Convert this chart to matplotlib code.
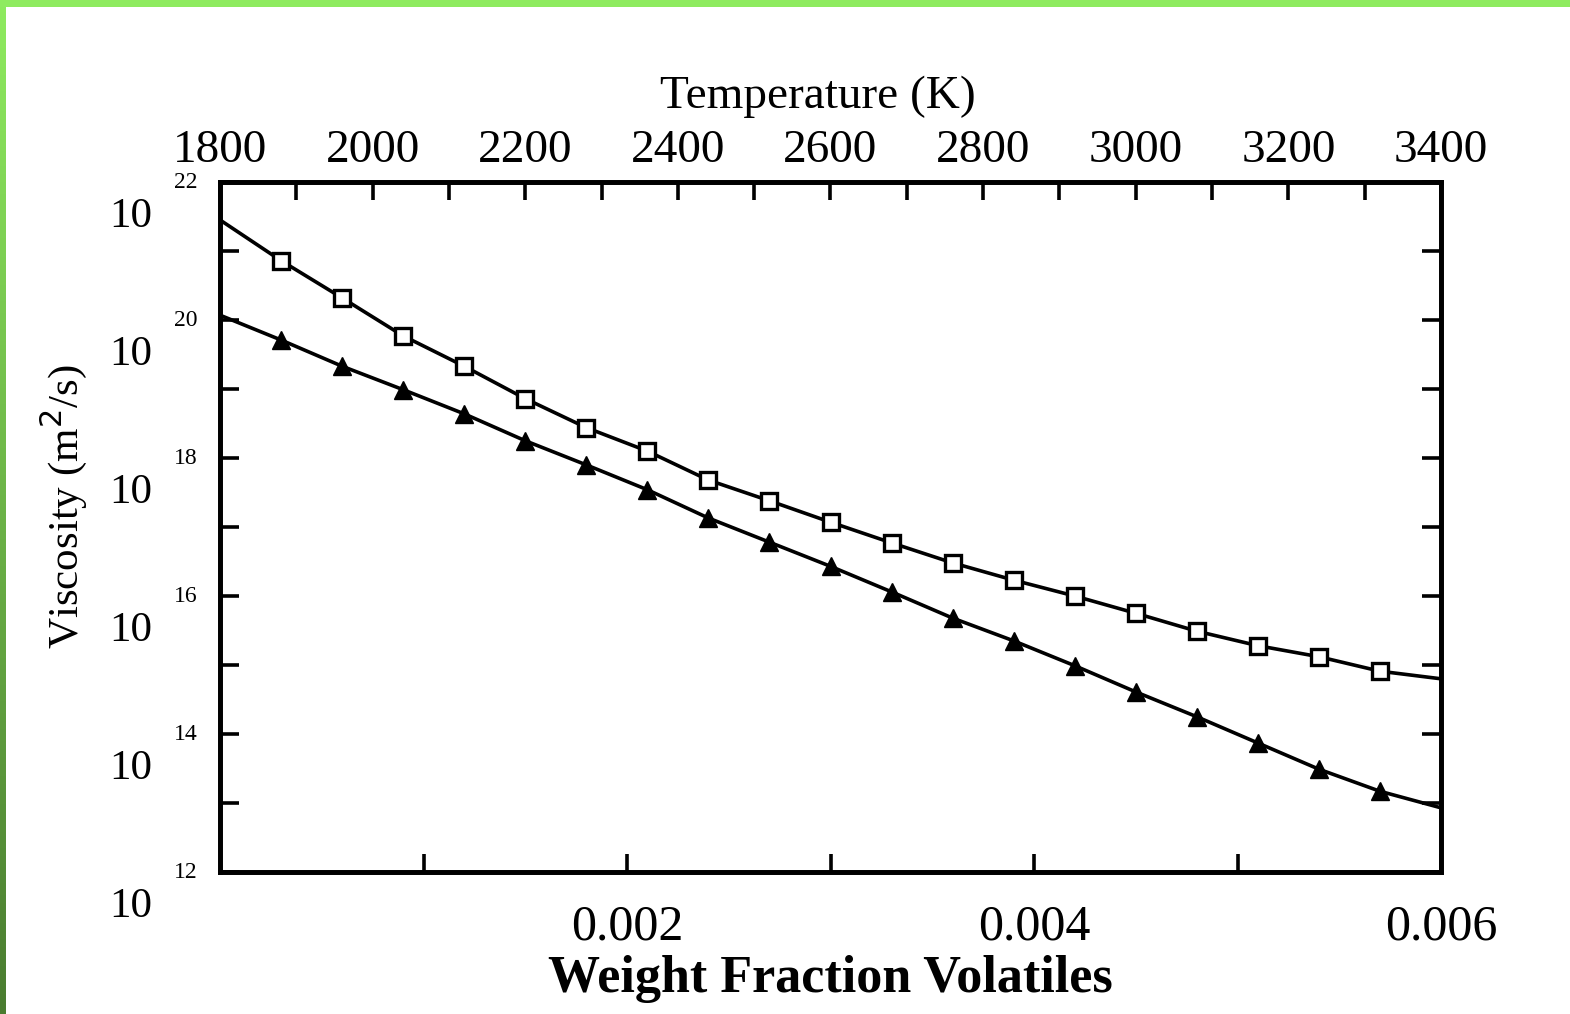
import matplotlib.pyplot as plt
import matplotlib.transforms as mtransforms
from matplotlib.patches import Rectangle
import numpy as np

# weight fraction of volatiles (line runs 0 -> 0.006, markers on the inner points)
wf = [0.0, 0.0003, 0.0006, 0.0009, 0.0012, 0.0015, 0.0018, 0.0021, 0.0024, 0.0027,
      0.0030, 0.0033, 0.0036, 0.0039, 0.0042, 0.0045, 0.0048, 0.0051, 0.0054, 0.0057, 0.0060]

# log10 of viscosity (m^2/s)
log_visc_squares = [21.45, 20.86, 20.32, 19.77, 19.33, 18.86, 18.44, 18.10, 17.68, 17.38,
                    17.07, 16.77, 16.48, 16.23, 16.00, 15.75, 15.49, 15.28, 15.12, 14.91, 14.80]
log_visc_triangles = [20.07, 19.71, 19.33, 18.99, 18.64, 18.25, 17.90, 17.54, 17.13, 16.78,
                      16.43, 16.06, 15.68, 15.35, 14.99, 14.61, 14.25, 13.87, 13.49, 13.17, 12.93]

temp_ticks = [1800, 2000, 2200, 2400, 2600, 2800, 3000, 3200, 3400]
wf_ticks = [0.002, 0.004, 0.006]
wf_tick_labels = ['0.002', '0.004', '0.006']
decade_labels = [12, 14, 16, 18, 20, 22]

serif = 'Liberation Serif'

fig = plt.figure(figsize=(15.7, 10.14), dpi=100)
fig.patch.set_facecolor('white')

# green frame of the screenshot
fig.patches.append(Rectangle((0, 1 - 7 / 1014), 1, 7 / 1014, transform=fig.transFigure,
                             facecolor='#8eeb5f', edgecolor='none', zorder=0))
strip = fig.add_axes([0, 0, 6 / 1570, 1])
grad = np.linspace(0, 1, 256).reshape(-1, 1)
top_c = np.array([0x8e, 0xeb, 0x5f]) / 255
bot_c = np.array([0x4a, 0x7c, 0x30]) / 255
img = top_c * (1 - grad[..., None]) + bot_c * grad[..., None]
strip.imshow(img, aspect='auto')
strip.axis('off')

ax = fig.add_axes([220 / 1570, 1 - 872 / 1014, 1221 / 1570, 690 / 1014])

ax.plot(wf, 10 ** np.array(log_visc_squares), color='black', lw=2.6,
        marker='s', ms=12, mfc='white', mec='black', mew=2.4,
        markevery=list(range(1, len(wf) - 1)))
ax.plot(wf, 10 ** np.array(log_visc_triangles), color='black', lw=2.6,
        marker='^', ms=13, mfc='black', mec='black',
        markevery=list(range(1, len(wf) - 1)))

ax.set_yscale('log')
ax.set_xlim(0, 0.006)
ax.set_ylim(1e12, 1e22)

for s in ax.spines.values():
    s.set_linewidth(3.4)

ax.set_xticks(wf_ticks)
ax.set_xticklabels(wf_tick_labels, fontsize=36, family=serif)
ax.set_xticks([0.001, 0.003, 0.005], minor=True)
ax.tick_params(axis='x', which='both', direction='in', length=13, width=2.6, pad=23)

ax.set_yticks([10.0 ** k for k in range(12, 23)])
ax.set_yticks([], minor=True)
ax.set_yticklabels([])
ax.tick_params(axis='y', which='major', direction='in', length=14, width=2.6,
               right=True, left=True)

# "10" with the exponent above and to the right, like the original
trans = mtransforms.blended_transform_factory(ax.transAxes, ax.transData)
for k in decade_labels:
    ax.text(-0.028, 10.0 ** k, str(k), transform=trans, ha='center', va='center',
            fontsize=17, family=serif)
    ax.text(-0.073, 10.0 ** (k - 0.5), '10', transform=trans, ha='center', va='center',
            fontsize=31, family=serif)

ax.set_xlabel('Weight Fraction Volatiles', fontsize=37.5, family=serif,
              fontweight='bold', labelpad=3)
ax.text(-0.128, 0.53, 'Viscosity (m$^{2}$/s)', transform=ax.transAxes, rotation=90,
        ha='center', va='center', fontsize=31, family=serif)

top = ax.twiny()
top.set_xlim(1800, 3400)
top.set_xticks(temp_ticks)
top.set_xticklabels([str(t) for t in temp_ticks], fontsize=34, family=serif)
top.set_xticks(np.arange(1900, 3400, 200), minor=True)
top.tick_params(axis='x', which='both', direction='in', length=13, width=2.6, pad=7)
top.set_xlabel('Temperature (K)', fontsize=34, family=serif)
top.xaxis.set_label_coords(0.49, 1.123)
top.xaxis.label.set_va('center')
for s in top.spines.values():
    s.set_linewidth(3.4)

fig.savefig('out.png', dpi=100, facecolor='white')
